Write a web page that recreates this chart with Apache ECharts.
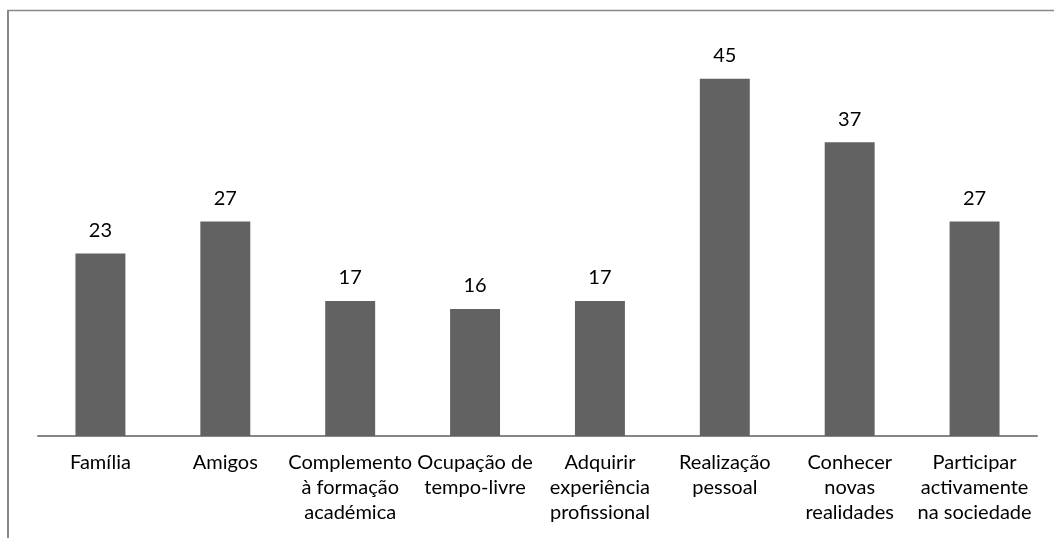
<!DOCTYPE html>
<html>
<head>
<meta charset="utf-8">
<script src="https://cdn.jsdelivr.net/npm/echarts@6/dist/echarts.min.js"></script>
<style>
  html, body { margin: 0; padding: 0; background: #fff; }
  #chart { width: 1054px; height: 538px; }
</style>
</head>
<body>
<div id="chart"></div>
<script>
const categories = [
  "Família",
  "Amigos",
  "Complemento\nà formação\nacadémica",
  "Ocupação de\ntempo-livre",
  "Adquirir\nexperiência\nprofissional",
  "Realização\npessoal",
  "Conhecer\nnovas\nrealidades",
  "Participar\nactivamente\nna sociedade"
];
const values = [23, 27, 17, 16, 17, 45, 37, 27];

let chart = echarts.init(document.getElementById("chart"));
let option = {
  animation: false,
  grid: { left: 38, right: 17, top: 39, bottom: 102 },
  graphic: [
    { type: "line", shape: { x1: 7, y1: 10.5, x2: 1054, y2: 10.5 }, style: { stroke: "#888", lineWidth: 1.5 } },
    { type: "line", shape: { x1: 8, y1: 10, x2: 8, y2: 538 }, style: { stroke: "#888", lineWidth: 2 } }
  ],
  xAxis: {
    type: "category",
    data: categories,
    axisTick: { show: false },
    axisLine: { lineStyle: { color: "#868686", width: 2 } },
    axisLabel: {
      interval: 0,
      color: "#000",
      fontFamily: "Lato",
      fontSize: 20,
      lineHeight: 25,
      margin: 14
    }
  },
  yAxis: {
    type: "value",
    min: 0,
    max: 50,
    show: false
  },
  series: [
    {
      type: "bar",
      data: values,
      barWidth: "40%",
      itemStyle: { color: "#626262" },
      label: {
        show: true,
        position: "top",
        distance: 13,
        color: "#000",
        fontFamily: "Lato",
        fontSize: 20
      }
    }
  ]
};
chart.setOption(option);
</script>
</body>
</html>
